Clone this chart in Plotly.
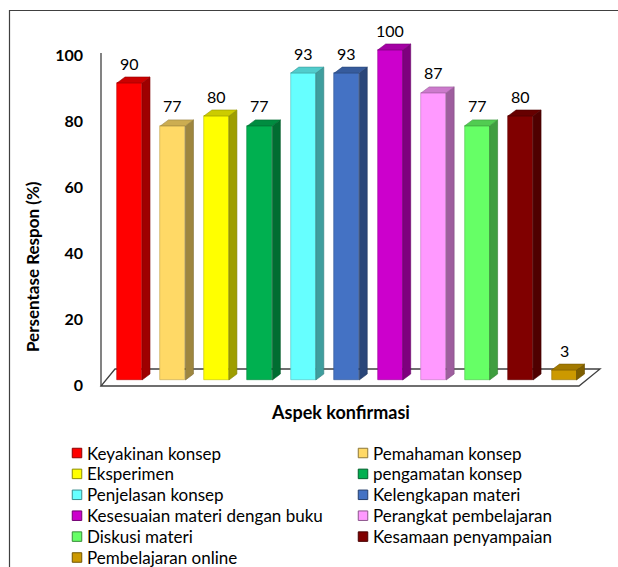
import plotly.graph_objects as go

# ---------------- data ----------------
categories = ["Keyakinan konsep", "Pemahaman konsep", "Eksperimen", "pengamatan konsep",
              "Penjelasan konsep", "Kelengkapan materi", "Kesesuaian materi dengan buku",
              "Perangkat pembelajaran", "Diskusi materi", "Kesamaan penyampaian",
              "Pembelajaran online"]
values = [90, 77, 80, 77, 93, 93, 100, 87, 77, 80, 3]
colors = ["#FF0000", "#FFD966", "#FFFF00", "#00B050", "#66FFFF", "#4472C4",
          "#CC00CC", "#FF99FF", "#66FF66", "#800000", "#CC9900"]
y_ticks = [0, 20, 40, 60, 80, 100]
y_title = "Persentase Respon (%)"
x_title = "Aspek konfirmasi"

# ---------------- layout geometry (pixels) ----------------
W, H = 618, 567
L, R, T, B = 96, 13, 30, 177
PW, PH = W - L - R, H - T - B
X0_PX, X_STEP_PX = 129.5, 43.45      # centre of first bar, spacing
Y0_PX, Y_SCALE = 380.0, 3.3          # pixel of value 0, pixels per unit
BAR_W_PX, DX_PX, DY_PX = 25, 8, 6    # bar width and 3-D depth offsets
LEG_COL_PX = [77, 363]               # legend square centres (x)
LEG_ROW0_PX, LEG_ROW_STEP = 453, 20.9
LEG_SQ = 9.5


def px2x(px):
    return (px - X0_PX) / X_STEP_PX


def px2y(py):
    return (Y0_PX - py) / Y_SCALE


def paper_x(px):
    return (px - L) / PW


def paper_y(py):
    return (H - B - py) / PH


def shade(hexcol, f):
    h = hexcol.lstrip("#")
    r, g, b = (int(h[i:i + 2], 16) for i in (0, 2, 4))
    return "rgb(%d,%d,%d)" % (int(r * f), int(g * f), int(b * f))


bw = BAR_W_PX / X_STEP_PX
dx = DX_PX / X_STEP_PX
dy = DY_PX / Y_SCALE

FONT = "Lato, sans-serif"

fig = go.Figure()

# front faces
for i, (cat, v, c) in enumerate(zip(categories, values, colors)):
    fig.add_trace(go.Bar(
        x=[i], y=[v], name=cat, width=bw,
        marker=dict(color=c, line=dict(color=shade(c, 0.75), width=0.6)),
        hoverinfo="name+y", cliponaxis=False, showlegend=False,
    ))

# side and top faces for the 3-D look
for i, (v, c) in enumerate(zip(values, colors)):
    xr = i + bw / 2
    xl = i - bw / 2
    fig.add_trace(go.Scatter(
        x=[xr, xr, xr + dx, xr + dx, xr], y=[0, v, v + dy, dy, 0],
        mode="lines", fill="toself", fillcolor=shade(c, 0.62),
        line=dict(color=shade(c, 0.5), width=0.6),
        showlegend=False, hoverinfo="skip"))
    fig.add_trace(go.Scatter(
        x=[xl, xr, xr + dx, xl + dx, xl], y=[v, v, v + dy, v + dy, v],
        mode="lines", fill="toself", fillcolor=shade(c, 0.8),
        line=dict(color=shade(c, 0.6), width=0.6),
        showlegend=False, hoverinfo="skip"))

annotations = []
# value labels
for i, v in enumerate(values):
    annotations.append(dict(
        x=i, y=v, xref="x", yref="y", text=str(v), showarrow=False,
        yanchor="middle", yshift=20, font=dict(family=FONT, size=16, color="#000000")))

# axis titles
annotations.append(dict(
    x=paper_x(340), y=paper_y(412), xref="paper", yref="paper", text=x_title,
    showarrow=False, xanchor="center", yanchor="middle",
    font=dict(family=FONT, size=18, weight="bold", color="#000000")))
annotations.append(dict(
    x=paper_x(32), y=paper_y(267), xref="paper", yref="paper", text=y_title,
    showarrow=False, xanchor="center", yanchor="middle", textangle=-90,
    font=dict(family=FONT, size=17, weight="bold", color="#000000")))

shapes = []
# legend (two columns)
for k, (cat, c) in enumerate(zip(categories, colors)):
    row, col = divmod(k, 2)
    cx = LEG_COL_PX[col]
    cy = LEG_ROW0_PX + row * LEG_ROW_STEP
    shapes.append(dict(
        type="rect", xref="paper", yref="paper",
        x0=paper_x(cx - LEG_SQ / 2), x1=paper_x(cx + LEG_SQ / 2),
        y0=paper_y(cy - LEG_SQ / 2), y1=paper_y(cy + LEG_SQ / 2),
        fillcolor=c, line=dict(color=shade(c, 0.55), width=1)))
    annotations.append(dict(
        x=paper_x(cx + LEG_SQ / 2 + 3), y=paper_y(cy), xref="paper", yref="paper",
        text=cat, showarrow=False, xanchor="left", yanchor="middle",
        font=dict(family=FONT, size=17, color="#000000")))

# floor and vertical axis line
floor_path = "M %f,%f L %f,%f L %f,%f L %f,%f Z" % (
    px2x(101), px2y(386), px2x(579), px2y(386),
    px2x(600), px2y(369), px2x(115), px2y(369))
shapes += [
    dict(type="path", path=floor_path, xref="x", yref="y", layer="below",
         fillcolor="white", line=dict(color="#404040", width=1.3)),
    dict(type="line", xref="x", yref="y", x0=px2x(101), x1=px2x(101),
         y0=px2y(386), y1=px2y(53), layer="below", line=dict(color="#404040", width=1.3)),
    # outer frame of the picture
    dict(type="rect", xref="paper", yref="paper",
         x0=paper_x(9.5), x1=paper_x(700), y0=paper_y(10.5), y1=paper_y(700),
         line=dict(color="#404040", width=1.2), fillcolor="rgba(0,0,0,0)", layer="below"),
]

fig.update_layout(
    width=W, height=H,
    margin=dict(l=L, r=R, t=T, b=B, autoexpand=False),
    paper_bgcolor="white", plot_bgcolor="white",
    barmode="overlay", bargap=0,
    font=dict(family=FONT, color="#000000"),
    xaxis=dict(range=[px2x(L), px2x(W - R)], showticklabels=False, showgrid=False,
               zeroline=False, showline=False, ticks=""),
    yaxis=dict(range=[px2y(H - B), px2y(T)], tickvals=y_ticks, showgrid=False,
               zeroline=False, showline=False, ticks="", ticklabelstandoff=12,
               ticklabelshift=5,
               tickfont=dict(family=FONT, size=16, weight="bold")),
    shapes=shapes, annotations=annotations,
    showlegend=False,
)

fig.write_html("out.html")
